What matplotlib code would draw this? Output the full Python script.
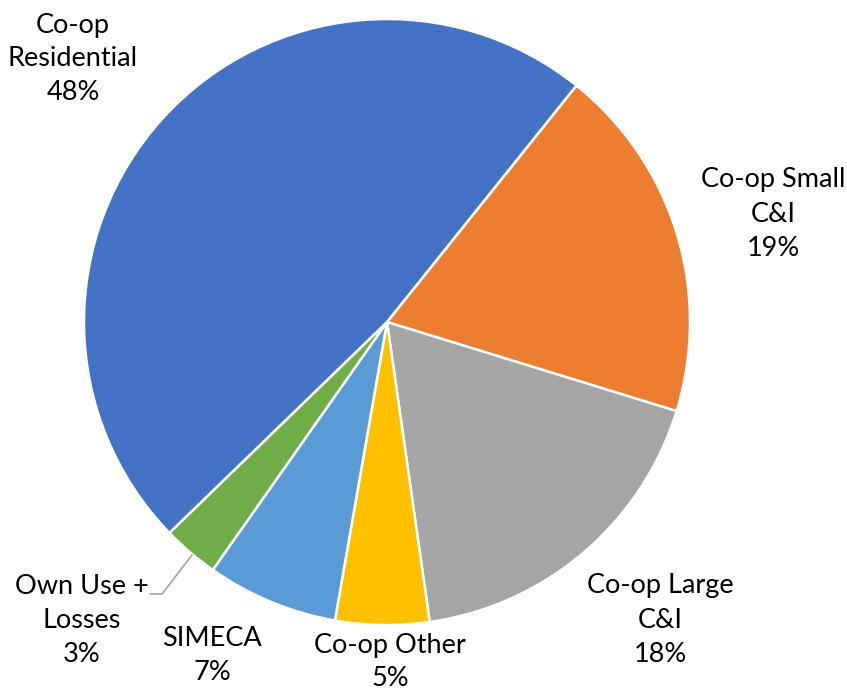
import matplotlib.pyplot as plt

# Load share by customer class (percent)
categories = ['Co-op Small\nC&I', 'Co-op Large\nC&I', 'Co-op Other', 'SIMECA',
              'Own Use +\nLosses', 'Co-op\nResidential']
shares = [19, 18, 5, 7, 3, 48]
colors = ['#ED7D31', '#A5A5A5', '#FFC000', '#5B9BD5', '#70AD47', '#4472C4']

# label centres in pixel space (y measured from the top)
label_pos = [(773, 214), (660, 620), (390, 662), (212, 655), (82, 620), (73, 59)]

W, H = 847, 689
fig = plt.figure(figsize=(W / 100, H / 100), dpi=100)
ax = fig.add_axes([0, 0, 1, 1])

ax.pie(shares, colors=colors, startangle=51.3, counterclock=False,
       center=(387, H - 322), radius=303,
       wedgeprops=dict(edgecolor='white', linewidth=1.8))

# pie() rescales the axes, so fix the limits afterwards
ax.set_xlim(0, W)
ax.set_ylim(0, H)
ax.set_aspect('equal')
ax.axis('off')

for name, val, (x, y) in zip(categories, shares, label_pos):
    ax.text(x, H - y, f'{name}\n{val}%', ha='center', va='center',
            fontsize=19.5, family='Lato', linespacing=1.45, color='black')

# leader line for the small slice
ax.plot([150, 162, 192], [H - 594, H - 594, H - 555], color='#A5A5A5', lw=1.2)

fig.savefig('out.png', dpi=100)
